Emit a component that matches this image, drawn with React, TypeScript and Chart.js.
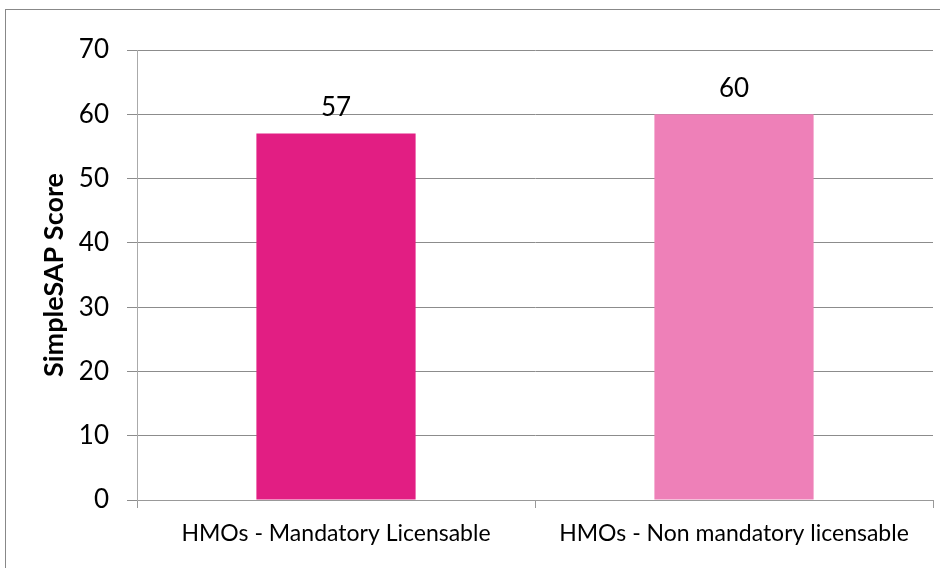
import React, { useEffect, useRef } from "react";
import { Chart, registerables } from "chart.js";

Chart.register(...registerables);

const categories = ["HMOs - Mandatory Licensable", "HMOs - Non mandatory licensable"];
const scores = [57, 60];
const barColors = ["#E21E83", "#EE80B8"];
const yTitle = "SimpleSAP Score";
const yMin = 0;
const yMax = 70;
const yStep = 10;

const FONT = "Lato, 'Open Sans', sans-serif";

const valueLabels = {
  id: "valueLabels",
  afterDatasetsDraw(chart: any) {
    const ctx = chart.ctx;
    const meta = chart.getDatasetMeta(0);
    ctx.save();
    ctx.font = `26px ${FONT}`;
    ctx.fillStyle = "#000";
    ctx.textAlign = "center";
    ctx.textBaseline = "middle";
    meta.data.forEach((bar: any, i: number) => {
      ctx.fillText(String(chart.data.datasets[0].data[i]), bar.x, bar.y - 26);
    });
    ctx.restore();
  },
};

export default function App() {
  const ref = useRef<HTMLCanvasElement>(null);
  useEffect(() => {
    if (!ref.current) return;
    const chart = new Chart(ref.current, {
      type: "bar",
      data: {
        labels: categories,
        datasets: [
          {
            data: scores,
            backgroundColor: barColors,
            barPercentage: 0.4,
            categoryPercentage: 1,
          },
        ],
      },
      plugins: [valueLabels],
      options: {
        responsive: false,
        animation: false,
        layout: { padding: { left: 0, top: 50, right: 7, bottom: 0 } },
        plugins: { legend: { display: false }, tooltip: { enabled: false } },
        scales: {
          x: {
            offset: true,
            grid: {
              offset: true,
              drawOnChartArea: false,
              drawTicks: true,
              tickLength: 8,
              color: "#999",
            },
            border: { color: "#999" },
            ticks: {
              color: "#000",
              font: { family: FONT, size: 23 },
              padding: 12,
              maxRotation: 0,
            },
            afterFit(scale: any) {
              scale.height = 68;
            },
          },
          y: {
            min: yMin,
            max: yMax,
            ticks: {
              stepSize: yStep,
              color: "#000",
              font: { family: FONT, size: 26 },
              padding: 18,
            },
            grid: { color: "#8c8c8c", tickLength: 10 },
            border: { color: "#aaa" },
            title: {
              display: true,
              text: yTitle,
              color: "#000",
              font: { family: FONT, size: 27, weight: "bold" },
              padding: { top: 38, bottom: 0 },
            },
            afterFit(scale: any) {
              scale.width = 137;
            },
          },
        },
      },
    });
    return () => chart.destroy();
  }, []);
  return (
    <div style={{ position: "fixed", left: 0, top: 0, width: 940, height: 568, background: "#fff", overflow: "hidden" }}>
      <div
        style={{
          position: "absolute",
          left: 5,
          top: 9,
          width: 960,
          height: 600,
          borderLeft: "1px solid #888",
          borderTop: "1px solid #888",
        }}
      />
      <canvas ref={ref} width={940} height={568} style={{ position: "absolute", left: 0, top: 0 }} />
    </div>
  );
}
